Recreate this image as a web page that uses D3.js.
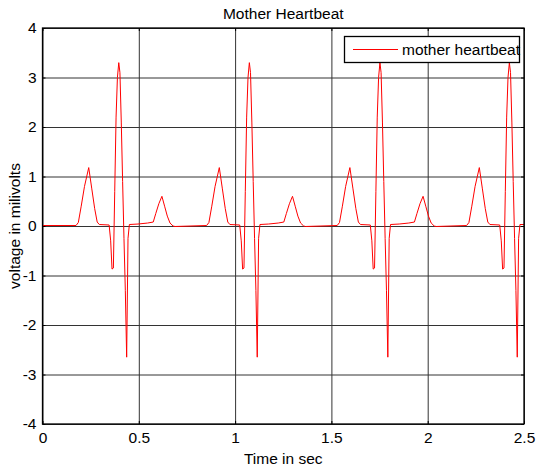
<!DOCTYPE html>
<html>
<head>
<meta charset="utf-8">
<script src="https://cdn.jsdelivr.net/npm/d3@7"></script>
<style>
  html, body { margin: 0; padding: 0; background: #fff; }
  svg { display: block; }
  text { font-family: "Liberation Sans", Arial, sans-serif; fill: #000; }
</style>
</head>
<body>
<svg id="chart" width="537" height="471"></svg>
<script>
// ---- data ----
const title = "Mother Heartbeat";
const xLabel = "Time in sec";
const yLabel = "voltage in milivolts";
const seriesName = "mother heartbeat";
const xTicks = [0, 0.5, 1, 1.5, 2, 2.5];
const yTicks = [-4, -3, -2, -1, 0, 1, 2, 3, 4];

const timeSec = [
  0.000,
  0.174, 0.186, 0.201, 0.218, 0.240, 0.256, 0.271, 0.284, 0.295,
  0.346, 0.354, 0.361, 0.368, 0.375, 0.382, 0.389, 0.396, 0.402, 0.409,
  0.416, 0.423, 0.430, 0.437, 0.444, 0.451, 0.496, 0.546, 0.575, 0.588,
  0.604, 0.620, 0.634, 0.648, 0.662, 0.678, 0.688,
  0.852, 0.864, 0.879, 0.896, 0.918, 0.934, 0.949, 0.962, 0.973,
  1.024, 1.032, 1.039, 1.046, 1.053, 1.060, 1.067, 1.074, 1.080, 1.087,
  1.094, 1.101, 1.108, 1.115, 1.122, 1.129, 1.174, 1.224, 1.253, 1.266,
  1.282, 1.298, 1.312, 1.326, 1.340, 1.356, 1.366,
  1.530, 1.542, 1.557, 1.574, 1.596, 1.612, 1.627, 1.640, 1.651,
  1.702, 1.710, 1.717, 1.724, 1.731, 1.738, 1.745, 1.752, 1.758, 1.765,
  1.772, 1.779, 1.786, 1.793, 1.800, 1.807, 1.852, 1.902, 1.931, 1.944,
  1.960, 1.976, 1.990, 2.004, 2.018, 2.034, 2.044,
  2.202, 2.214, 2.229, 2.246, 2.268, 2.284, 2.299, 2.312, 2.323,
  2.374, 2.382, 2.389, 2.396, 2.403, 2.410, 2.417, 2.424, 2.430, 2.437,
  2.444, 2.451, 2.458, 2.465, 2.472, 2.479, 2.500
];

const voltage = [
  0.01,
  0.01, 0.07, 0.40, 0.80, 1.18, 0.75, 0.35, 0.08, 0.03,
  0.02, -0.30, -0.87, -0.85, 0.70, 2.20, 3.00, 3.30, 3.10, 2.10,
  0.90, -0.25, -1.30, -2.65, -0.25, 0.03, 0.04, 0.06, 0.08, 0.25,
  0.45, 0.60, 0.40, 0.20, 0.06, 0.00, -0.01,
  0.01, 0.07, 0.40, 0.80, 1.18, 0.75, 0.35, 0.08, 0.03,
  0.02, -0.30, -0.87, -0.85, 0.70, 2.20, 3.00, 3.30, 3.10, 2.10,
  0.90, -0.25, -1.30, -2.65, -0.25, 0.03, 0.04, 0.06, 0.08, 0.25,
  0.45, 0.60, 0.40, 0.20, 0.06, 0.00, -0.01,
  0.01, 0.07, 0.40, 0.80, 1.18, 0.75, 0.35, 0.08, 0.03,
  0.02, -0.30, -0.87, -0.85, 0.70, 2.20, 3.00, 3.30, 3.10, 2.10,
  0.90, -0.25, -1.30, -2.65, -0.25, 0.03, 0.04, 0.06, 0.08, 0.25,
  0.45, 0.60, 0.40, 0.20, 0.06, 0.00, -0.01,
  0.01, 0.07, 0.40, 0.80, 1.18, 0.75, 0.35, 0.08, 0.03,
  0.02, -0.30, -0.87, -0.85, 0.70, 2.20, 3.00, 3.30, 3.10, 2.10,
  0.90, -0.25, -1.30, -2.65, -0.25, 0.03, 0.03
];

// ---- layout ----
const L = 42.5, R = 524, T = 28, B = 424;
const FS = 15.5;
const fmt = d => String(d);   // plain hyphen minus, as in the reference

const svg = d3.select("#chart");
const x = d3.scaleLinear().domain([0, 2.5]).range([L, R]);
const y = d3.scaleLinear().domain([-4, 4]).range([B, T]);

// grid
const grid = svg.append("g").attr("class", "grid");
grid.append("g")
  .attr("transform", `translate(0,${B})`)
  .call(d3.axisBottom(x).tickValues(xTicks).tickSize(-(B - T)).tickFormat(""))
  .call(g => g.select(".domain").remove())
  .call(g => g.selectAll("line").attr("stroke", "#333").attr("stroke-width", 1));
grid.append("g")
  .attr("transform", `translate(${L},0)`)
  .call(d3.axisLeft(y).tickValues(yTicks).tickSize(-(R - L)).tickFormat(""))
  .call(g => g.select(".domain").remove())
  .call(g => g.selectAll("line").attr("stroke", "#333").attr("stroke-width", 1));

// data line
const pts = timeSec.map((t, i) => [t, voltage[i]]);
svg.append("path")
  .datum(pts)
  .attr("fill", "none")
  .attr("stroke", "#ff0000")
  .attr("stroke-width", 1)
  .attr("d", d3.line().x(d => x(d[0])).y(d => y(d[1])));

// axes box with inward ticks
function styleAxis(g) {
  g.select(".domain").remove();
  g.selectAll("line").attr("stroke", "#000");
  g.selectAll("text").style("font-size", FS + "px").style("font-family", '"Liberation Sans", Arial, sans-serif').attr("fill", "#000");
}
svg.append("g").attr("transform", `translate(0,${B})`)
  .call(d3.axisBottom(x).tickValues(xTicks).tickSize(-3).tickPadding(8).tickFormat(fmt))
  .call(styleAxis);
svg.append("g").attr("transform", `translate(0,${T})`)
  .call(d3.axisTop(x).tickValues(xTicks).tickSize(-3).tickFormat(""))
  .call(styleAxis);
svg.append("g").attr("transform", `translate(${L},0)`)
  .call(d3.axisLeft(y).tickValues(yTicks).tickSize(-3).tickPadding(6).tickFormat(fmt))
  .call(styleAxis);
svg.append("g").attr("transform", `translate(${R},0)`)
  .call(d3.axisRight(y).tickValues(yTicks).tickSize(-3).tickFormat(""))
  .call(styleAxis);

svg.append("rect")
  .attr("x", L).attr("y", T).attr("width", R - L).attr("height", B - T)
  .attr("fill", "none").attr("stroke", "#000").attr("stroke-width", 1.3);

// legend
const lg = svg.append("g");
lg.append("rect").attr("x", 344.5).attr("y", 36.5).attr("width", 175).attr("height", 26)
  .attr("fill", "#fff").attr("stroke", "#000").attr("stroke-width", 1.3);
lg.append("line").attr("x1", 353).attr("x2", 398).attr("y1", 49.5).attr("y2", 49.5)
  .attr("stroke", "#ff0000").attr("stroke-width", 1);
lg.append("text").attr("x", 402).attr("y", 55).style("font-size", FS + "px").text(seriesName);

// titles
svg.append("text").attr("x", (L + R) / 2).attr("y", 19).attr("text-anchor", "middle")
  .style("font-size", FS + "px").text(title);
svg.append("text").attr("x", (L + R) / 2).attr("y", 464).attr("text-anchor", "middle")
  .style("font-size", FS + "px").text(xLabel);
svg.append("text").attr("transform", `translate(20,${(T + B) / 2}) rotate(-90)`)
  .attr("text-anchor", "middle").style("font-size", FS + "px").text(yLabel);
</script>
</body>
</html>
